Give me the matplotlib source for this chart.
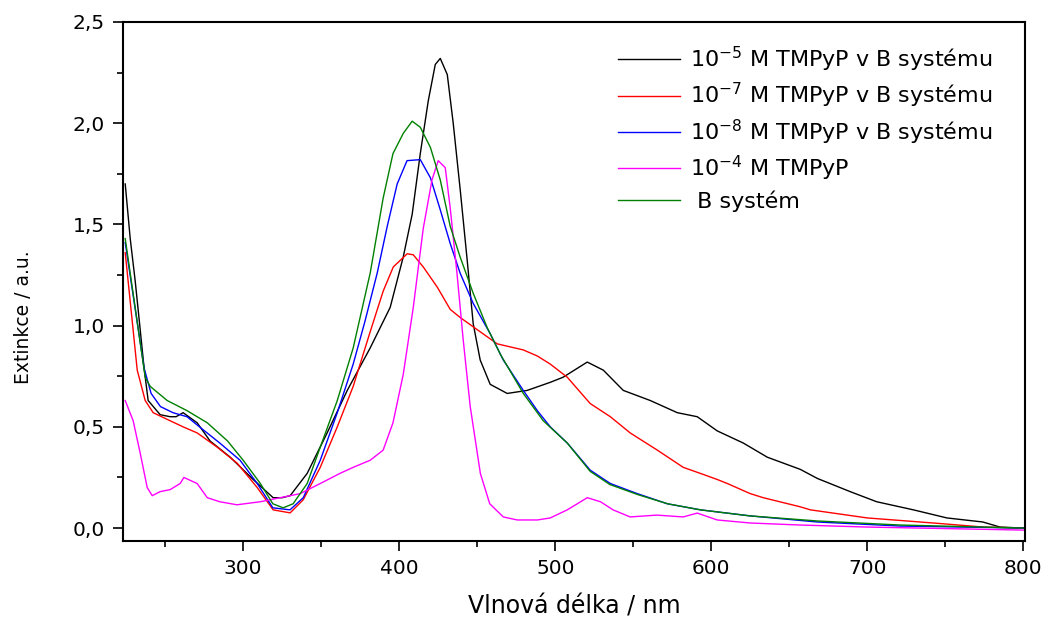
import matplotlib
matplotlib.use('Agg')
import matplotlib.pyplot as plt
from matplotlib.ticker import MultipleLocator, FuncFormatter

# (vlnová délka nm, extinkce)
wl_black = [224.4, 227.6, 230.8, 234, 236.5, 239.1, 246.8, 253.2, 257, 261.5, 270.5, 278.8, 291.7, 306.4,
            319.2, 325, 330.1, 341, 353.8, 366.7, 381.4, 394.2, 402.6, 408.3, 413.5, 418.6, 423.1, 426.3,
            430.8, 434.6, 439.1, 443.6, 447.4, 451.9, 458.3, 469.2, 482, 496.8, 505, 520.5, 530.8, 543.6,
            560.9, 578.2, 591, 603.8, 620.5, 635.9, 657, 668, 689, 706, 729.5, 751, 774, 785, 800]
ext_black = [1.70, 1.43, 1.22, 0.98, 0.79, 0.63, 0.56, 0.55, 0.55, 0.57, 0.52, 0.43, 0.35, 0.24,
             0.15, 0.15, 0.16, 0.27, 0.47, 0.68, 0.89, 1.09, 1.34, 1.55, 1.85, 2.11, 2.29, 2.32,
             2.24, 2.00, 1.67, 1.32, 1.01, 0.83, 0.71, 0.665, 0.68, 0.72, 0.745, 0.82, 0.78, 0.68,
             0.63, 0.57, 0.55, 0.48, 0.42, 0.35, 0.29, 0.245, 0.18, 0.13, 0.09, 0.05, 0.03, 0.005, 0.0]

wl_red = [224.4, 232.1, 237.2, 242.3, 253.2, 261.5, 270.5, 283.3, 296.2, 309, 319.2, 330.1, 338.5, 349.4,
          360.3, 370.5, 381.4, 389.7, 396.2, 405.1, 409, 415.4, 424.4, 432.7, 439.1, 450, 462.8, 479.5,
          488.5, 496.8, 507.7, 522.4, 535.3, 548, 565.4, 582, 593, 603.8, 610.3, 625, 633.3, 657, 663.5,
          700, 742.3, 774.4, 800]
ext_red = [1.36, 0.78, 0.63, 0.57, 0.53, 0.50, 0.47, 0.40, 0.32, 0.20, 0.09, 0.075, 0.14, 0.30,
           0.50, 0.70, 0.97, 1.17, 1.29, 1.355, 1.35, 1.29, 1.19, 1.08, 1.04, 0.98, 0.91, 0.88,
           0.85, 0.81, 0.745, 0.615, 0.55, 0.47, 0.385, 0.30, 0.27, 0.24, 0.22, 0.17, 0.15, 0.105, 0.09,
           0.05, 0.025, 0.005, 0.0]

wl_blue = [224.4, 236.5, 241, 247, 255, 264, 272, 285, 298, 309, 319, 330, 338.5, 349.4, 360.3, 370.5,
           378, 385.9, 392.3, 398.7, 405, 413.5, 420, 426, 432.7, 439, 447.4, 458.3, 466.7, 479.5,
           488.5, 496.8, 507.7, 522.4, 535.3, 552.6, 571.8, 593, 625, 668, 721, 800]
ext_blue = [1.41, 0.79, 0.665, 0.60, 0.57, 0.55, 0.50, 0.42, 0.335, 0.22, 0.10, 0.09, 0.15, 0.335, 0.57, 0.81,
            1.02, 1.26, 1.49, 1.70, 1.815, 1.82, 1.73, 1.58, 1.405, 1.26, 1.11, 0.96, 0.83, 0.68,
            0.58, 0.50, 0.42, 0.286, 0.22, 0.17, 0.12, 0.09, 0.06, 0.03, 0.01, 0.0]

wl_mag = [224.4, 229.5, 234, 238.5, 241.7, 246.8, 253.2, 259.6, 262, 270.5, 277, 285, 296, 310.9, 323.7,
          336.5, 349.4, 362, 370.5, 381.4, 389.7, 396, 402.6, 409, 415.4, 421, 425, 429.5, 432.7, 437,
          441, 445.5, 452, 458, 466.7, 475.6, 488.5, 496.8, 507.7, 520.5, 529, 537, 548, 565, 582, 591,
          603.8, 625, 657, 700, 800]
ext_mag = [0.63, 0.53, 0.37, 0.20, 0.16, 0.18, 0.19, 0.22, 0.25, 0.22, 0.15, 0.13, 0.115, 0.13, 0.15,
           0.17, 0.22, 0.27, 0.30, 0.335, 0.385, 0.52, 0.76, 1.09, 1.48, 1.72, 1.815, 1.78, 1.58, 1.26,
           0.93, 0.60, 0.27, 0.12, 0.055, 0.04, 0.04, 0.05, 0.09, 0.15, 0.13, 0.09, 0.055, 0.064, 0.055, 0.074,
           0.04, 0.025, 0.015, 0.005, -0.01]

wl_green = [224.4, 237.2, 240.4, 251.3, 264, 277, 290, 300, 311, 319, 325.6, 332, 341, 349.4, 360.3,
            370.5, 381.4, 389.7, 396, 402.6, 408.3, 413.5, 420, 426.3, 432.7, 439, 447.4, 456.4, 464.7,
            479.5, 492.3, 507.7, 522.4, 535, 553, 572, 593, 625, 668, 721, 800]
ext_green = [1.43, 0.745, 0.70, 0.63, 0.58, 0.52, 0.43, 0.335, 0.22, 0.12, 0.10, 0.12, 0.22, 0.40, 0.63,
             0.89, 1.26, 1.63, 1.85, 1.95, 2.01, 1.98, 1.88, 1.72, 1.49, 1.34, 1.16, 0.99, 0.86,
             0.665, 0.53, 0.42, 0.28, 0.215, 0.165, 0.12, 0.09, 0.06, 0.035, 0.015, 0.0]

labels = [r'10$^{\mathregular{-5}}$ M TMPyP v B systému', r'10$^{\mathregular{-7}}$ M TMPyP v B systému',
          r'10$^{\mathregular{-8}}$ M TMPyP v B systému', r'10$^{\mathregular{-4}}$ M TMPyP', ' B systém']

fig = plt.figure(figsize=(10.48, 6.28), dpi=100)
ax = fig.add_axes([0.1174, 0.1385, 0.8606, 0.8265])

ax.plot(wl_black, ext_black, color='k', lw=1.0, label=labels[0])
ax.plot(wl_red, ext_red, color='#ff0000', lw=1.0, label=labels[1])
ax.plot(wl_blue, ext_blue, color='#0000ff', lw=1.0, label=labels[2])
ax.plot(wl_mag, ext_mag, color='#ff00ff', lw=1.0, label=labels[3])
ax.plot(wl_green, ext_green, color='#008000', lw=1.0, label=labels[4])

ax.set_xlim(223, 801)
ax.set_ylim(-0.064, 2.5)
ax.xaxis.set_major_locator(MultipleLocator(100))
ax.xaxis.set_minor_locator(MultipleLocator(50))
ax.yaxis.set_major_locator(MultipleLocator(0.5))
ax.yaxis.set_minor_locator(MultipleLocator(0.25))
ax.yaxis.set_major_formatter(FuncFormatter(lambda v, p: f'{v:.1f}'.replace('.', ',')))
ax.tick_params(which='major', direction='out', length=7, width=1.2, labelsize=14.5, pad=6)
ax.tick_params(which='minor', direction='out', length=4, width=1.2)
for s in ax.spines.values():
    s.set_linewidth(1.5)

ax.set_xlabel('Vlnová délka / nm', fontsize=17, labelpad=12)
ax.set_ylabel('Extinkce / a.u.', fontsize=13.5)
ax.yaxis.set_label_coords(-0.1, 0.432)

ax.legend(loc='upper left', bbox_to_anchor=(0.549, 0.956), frameon=False, fontsize=16,
          handlelength=2.8, handletextpad=0.45, labelspacing=0.32, borderpad=0, borderaxespad=0)

fig.savefig('out.png', dpi=100)
